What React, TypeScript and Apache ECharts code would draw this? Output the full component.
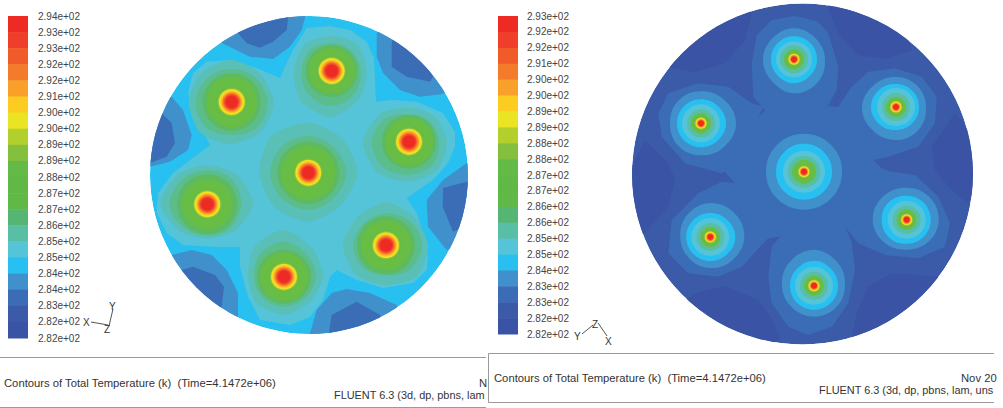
import React, { useEffect, useRef } from "react";
import * as echarts from "echarts";

const leftLabels = ["2.94e+02","2.93e+02","2.93e+02","2.92e+02","2.92e+02","2.91e+02","2.90e+02","2.90e+02","2.89e+02","2.89e+02","2.88e+02","2.87e+02","2.87e+02","2.86e+02","2.85e+02","2.85e+02","2.84e+02","2.84e+02","2.83e+02","2.82e+02","2.82e+02"];
const rightLabels = ["2.93e+02","2.92e+02","2.92e+02","2.91e+02","2.90e+02","2.90e+02","2.89e+02","2.89e+02","2.88e+02","2.88e+02","2.87e+02","2.87e+02","2.86e+02","2.86e+02","2.85e+02","2.85e+02","2.84e+02","2.83e+02","2.83e+02","2.82e+02","2.82e+02"];
const bandColors = ["#ed2a24","#ef3e2a","#f15a29","#f47b2a","#f9a02b","#fdcc20","#e9e524","#b3cf2b","#85bf3e","#63ba46","#60b946","#60b946","#56b572","#58bea4","#55c3d8","#27c0f0","#4090cc","#3a6db5","#3b5aa8","#3a53a4"];
// Shades seen in the disc's green-to-teal rings, outermost first
const ringShades = ["#5abfb6","#5bbc8c","#5eba62","#68bd45"];

type Pt = number[];
// Left disc: isotherm outlines (x, y in picture units)
const leftLight: Pt[] = [[306.7,28],[330,26],[350,30],[366.7,41.7],[374,58],[376,101.7],[393,100],[416.7,101.7],[443,113],[455,131.7],[455,146.7],[448,163],[433,180],[406.7,198],[416.7,213],[423,233],[428,257],[426.7,270],[413,283],[383,288],[356.7,280],[336.7,270],[330,277],[323,300],[310,317],[290,325],[260,320],[248,297],[240,267],[240,247],[216.7,247],[183,245],[166.7,233],[156.7,213],[158,193],[173,173],[210,145],[193,113],[188,93],[193,73],[206.7,61.7],[230,60],[256.7,68],[280,78],[286.7,63],[293,50]];
const leftMidBlobs: Pt[][] = [
  [[221.7,43],[225,20],[305,5],[305.7,15],[301.7,30],[290,46.7],[273,59],[250,56.7]],
  [[376.7,33],[376.7,56.7],[383,73],[400,90],[420,96.7],[443,94],[470,70],[400,20]],
  [[171.7,96.7],[183,110],[191.7,135],[188,150],[170,161.7],[150,166.7],[130,150],[140,100]],
  [[466.7,163],[443,180],[426.7,200],[428,226.7],[446.7,250],[480,240],[490,170]],
  [[171.7,255],[191.7,250],[211.7,255],[226.7,270],[238,293],[238,316.7],[200,330],[150,280]],
  [[310,333],[316.7,310],[331.7,293],[346.7,289],[370,293],[396.7,305],[400,340],[310,345]],
];
const leftDarkBlobs: Pt[][] = [
  [[238,33],[235,15],[288,10],[288,18],[286.7,30],[273,41.7],[260,47.7],[246.7,43.3]],
  [[391.7,43.3],[391.7,66.7],[406.7,76.7],[430,81.7],[433,77],[420,40],[395,30]],
  [[161.7,113],[171.7,123],[175,143],[166.7,156.7],[150,163],[135,140],[145,115]],
  [[466.7,181.7],[443,188],[442.7,206.7],[453,231.7],[480,220],[480,180]],
  [[181.7,270],[193,266.7],[215,275],[224,286.7],[221.7,306.7],[190,320],[160,280]],
  [[329,331.7],[331.7,315],[356.7,301.7],[380,315],[385,340],[330,345]],
];
const leftSpots: Pt[] = [[331.7,71],[231.7,102],[409,141.7],[308.3,172.7],[207.3,204.3],[386,245.3],[284,276.7]];
// Radii of the outer rings in the directions E, SE, S, SW, W, NW, N, NE
const leftOuterRing: number[][] = [[35,39,46,43,38,38,35,37],[42,42,42,44,43,42,42,40],[38,40,40,44,46,40,34,36],[49,46,49,48,49,52,50,48],[46,38,34,38,47,42,39,42],[42,44,40,42,43,40,43,40],[39,36,38,38,36,42,47,40]];
const leftSecondRing: number[][] = [[29,32,35,33,30,30,28,28],[36,36,33,36,36,34,33,34],[30,33,33,36,37,33,27,29],[38,36,37,37,38,37,37,36],[34,33,31,33,38,35,34,35],[36,34,30,32,33,31,32,34],[32,30,30,30,30,33,35,32]];
const leftThirdRing = [26,29,27,31,30,29,27];
const leftGreenRing = [23,25,24,27,25,25,24];
const leftCore: Pt[] = [[9,15.5],[8,14.5],[6,13],[5,11.5],[4,10.2],[3,9],[2,8],[1,7],[0,6]];

// Right disc
const rightOuterBlobs: Pt[][] = [
  [[668,67],[695,72],[725,63],[745,40],[751.7,13],[740,-5],[650,30]],
  [[828,7],[838,33],[858,55],[885,59],[911.7,50],[900,10],[830,-5]],
  [[645,140],[668,163],[675,180],[668,207],[643,235],[620,190]],
  [[955,113],[931.7,146.7],[935,170],[951.7,190],[968,203],[990,160]],
  [[696.7,293],[725,286],[758,300],[773,320],[780,340],[760,350],[670,310]],
  [[856.7,313],[868,286.7],[891.7,273],[938,276.7],[950,300],[870,350],[850,345]],
];
const rightInner: Pt[] = [[751.7,63.3],[756.7,35],[771.7,20],[795,16],[818.3,21.7],[828.3,33.3],[838.3,66.7],[836.7,90],[827.7,106],[838.3,106.7],[851.7,86.7],[868.3,71.7],[895,68.3],[921.7,76.7],[936.7,96.7],[935,123.3],[918.3,146.7],[888.3,156.7],[873.3,160],[881.7,168.3],[891.7,171.7],[915,175],[938.3,196.7],[950,223.3],[945,246.7],[918.3,258.3],[885,255],[858.3,243.3],[845,226.7],[851.7,241.7],[855,270],[848.3,303.3],[831.7,326.7],[808.3,335],[788.3,326.7],[771.7,303.3],[768.3,276.7],[771.7,246.7],[780,236.7],[768.3,238.3],[760,246.7],[741.7,266.7],[718.3,276.7],[688.3,273.3],[668.3,253.3],[671.7,220],[698.3,193.3],[721.7,181.7],[735,183.3],[725,171.7],[721.7,173.3],[685,163.3],[661.7,136.7],[658.3,113.3],[668.3,93.3],[698.3,83.3],[728.3,86.7],[751.7,103.3],[763.3,106.7],[758.3,118.3],[765,110],[753.3,96.7]];
const rightSpots: Pt[] = [[794,59.3],[701,123.3],[896,107],[804,171.7],[710.3,237],[906.7,219.7],[814,285.7]];
const rightMidRing: number[][] = [[31,33,34,31,31,30,31,30],[35,33,32,32,31,32,32,33],[30,32,33,33,34,31,30,30],[38,38,38,38,38,38,38,38],[34,32,31,30,30,32,34,34],[32,31,30,32,34,33,32,32],[31,31,31,31,32,34,36,33]];
const rightCyanRing: number[][] = [[23,23,24,23,23,23,23,23],[25,24,24,24,24,24,24,24],[23,23,23,24,25,24,23,23],[28,28,28,28,28,28,28,28],[25,24,24,24,24,24,24,24],[24,24,24,25,25,25,24,24],[24,24,24,24,24,24,25,24]];
const rightLightRing = [18,19,19,21,19,19,19];
const rightTealRing = [14,14,14,16,14,14,14];
const rightGreenRing = [10,10,10,12,10,10,10];
const rightCore: Pt[] = [[9,7.5],[8,6.5],[6,5.5],[5,4.8],[3,4],[0,3]];

const dirs = [[1,0],[0.7071,0.7071],[0,1],[-0.7071,0.7071],[-1,0],[-0.7071,-0.7071],[0,-1],[0.7071,-0.7071]];
const ring = (c: Pt, radii: number[]): Pt[] => radii.map((r, i) => [c[0] + dirs[i][0] * r, c[1] + dirs[i][1] * r]);

type Shape = { fill: string; pts?: Pt[]; smooth?: number; c?: Pt; r?: number };

function leftShapes(): Shape[] {
  const s: Shape[] = [{ fill: bandColors[15], c: [309, 175], r: 159 }];
  leftMidBlobs.forEach((p) => s.push({ fill: bandColors[16], pts: p }));
  leftDarkBlobs.forEach((p) => s.push({ fill: bandColors[17], pts: p }));
  s.push({ fill: bandColors[14], pts: leftLight });
  leftSpots.forEach((c, i) => {
    s.push({ fill: ringShades[0], pts: ring(c, leftOuterRing[i]), smooth: 0.25 });
    s.push({ fill: ringShades[1], pts: ring(c, leftSecondRing[i]), smooth: 0.35 });
    s.push({ fill: ringShades[2], c, r: leftThirdRing[i] });
    s.push({ fill: ringShades[3], c, r: leftGreenRing[i] });
    leftCore.forEach(([b, r]) => s.push({ fill: bandColors[b], c, r }));
  });
  return s;
}
function rightShapes(): Shape[] {
  const s: Shape[] = [{ fill: bandColors[18], c: [802.5, 174], r: 170.5 }];
  rightOuterBlobs.forEach((p) => s.push({ fill: bandColors[19], pts: p }));
  s.push({ fill: bandColors[17], pts: rightInner });
  rightSpots.forEach((c, i) => {
    s.push({ fill: bandColors[16], pts: ring(c, rightMidRing[i]), smooth: 0.4 });
    s.push({ fill: bandColors[15], pts: ring(c, rightCyanRing[i]), smooth: 0.4 });
    s.push({ fill: bandColors[14], c, r: rightLightRing[i] });
    s.push({ fill: bandColors[13], c, r: rightTealRing[i] });
    s.push({ fill: ringShades[3], c, r: rightGreenRing[i] });
    rightCore.forEach(([b, r]) => s.push({ fill: bandColors[b], c, r }));
  });
  return s;
}

function discSeries(shapes: Shape[], axisIndex: number, disc: Pt, discR: number) {
  return {
    type: "custom",
    coordinateSystem: "cartesian2d",
    xAxisIndex: axisIndex,
    yAxisIndex: axisIndex,
    clip: false,
    silent: true,
    data: shapes.map((_, i) => [disc[0], disc[1], i]),
    renderItem: (params: any, api: any) => {
      const sh = shapes[params.dataIndex];
      const fill = sh.fill;
      const cc = api.coord(disc);
      const cr = api.size([discR, 0])[0];
      const clipPath = { type: "circle", shape: { cx: cc[0], cy: cc[1], r: cr } };
      if (sh.pts) {
        return {
          type: "polygon",
          shape: { points: sh.pts.map((p) => api.coord(p)), smooth: sh.smooth || 0 },
          style: { fill },
          clipPath,
        };
      }
      const p = api.coord(sh.c);
      return {
        type: "circle",
        shape: { cx: p[0], cy: p[1], r: api.size([sh.r, 0])[0] },
        style: { fill },
        clipPath,
      };
    },
  };
}

function barSeries(axisIndex: number) {
  return {
    type: "custom",
    coordinateSystem: "cartesian2d",
    xAxisIndex: axisIndex,
    yAxisIndex: axisIndex,
    silent: true,
    data: bandColors.map((_, i) => [0, i]),
    renderItem: (params: any, api: any) => {
      const i = params.dataIndex;
      const a = api.coord([0, i]);
      const b = api.coord([1, i + 1]);
      return { type: "rect", shape: { x: a[0], y: a[1], width: b[0] - a[0], height: b[1] - a[1] + 0.5 }, style: { fill: bandColors[i] } };
    },
  };
}

const FONT = '"Liberation Sans", Arial, sans-serif';
const LINE = "#9a9a9a";
const RIGHT_EDGE = 994;
const label = (text: string, x: number, y: number, size = 11.25, z = 10) => ({
  type: "text", z, silent: true,
  style: { text, x, y, fill: "#333333", font: `${size}px ${FONT}`, verticalAlign: "middle" },
});
const seg = (x1: number, y1: number, x2: number, y2: number, stroke = LINE, z = 10) => ({
  type: "line", z, silent: true,
  shape: { x1, y1, x2, y2 },
  style: { stroke, lineWidth: 1 },
});

export default function App() {
  const ref = useRef<HTMLDivElement>(null);
  useEffect(() => {
    const chart = echarts.init(ref.current!, undefined, { renderer: "svg" });
    const discAxis = (min: number, max: number, inverse: boolean) => ({ type: "value", min, max, inverse, show: false, scale: true });
    const barY = (labels: string[], margin: number, topPad: number) => ({
      type: "value", min: 0, max: 20, interval: 1, inverse: true,
      axisLine: { show: false }, axisTick: { show: false }, splitLine: { show: false },
      position: "right",
      axisLabel: {
        show: true, margin, color: "#444444", fontSize: 10, fontFamily: FONT,
        padding: [topPad, 0, 0, 0],
        showMinLabel: true, showMaxLabel: true, hideOverlap: false,
        formatter: (v: number) => labels[Math.round(v)],
      },
    });
    chart.setOption({
      animation: false,
      backgroundColor: "#ffffff",
      grid: [
        { left: 150, top: 16, width: 318, height: 318 },
        { left: 632, top: 3.5, width: 341, height: 341 },
        { left: 8, top: 16, width: 20, height: 322 },
        { left: 498, top: 16, width: 20, height: 318 },
      ],
      xAxis: [
        { gridIndex: 0, ...discAxis(150, 468, false) },
        { gridIndex: 1, ...discAxis(632, 973, false) },
        { gridIndex: 2, type: "value", min: 0, max: 1, show: false },
        { gridIndex: 3, type: "value", min: 0, max: 1, show: false },
      ],
      yAxis: [
        { gridIndex: 0, ...discAxis(16, 334, true) },
        { gridIndex: 1, ...discAxis(3.5, 344.5, true) },
        { gridIndex: 2, ...barY(leftLabels, 10, 2) },
        { gridIndex: 3, ...barY(rightLabels, 9, 3) },
      ],
      series: [
        discSeries(leftShapes(), 0, [309, 175], 159),
        discSeries(rightShapes(), 1, [802.5, 174], 170.5),
        barSeries(2),
        barSeries(3),
      ],
      graphic: [
        // Left footer
        seg(0, 357.5, 486, 357.5),
        seg(0, 407.5, 486, 407.5),
        label("Contours of Total Temperature (k)  (Time=4.1472e+06)", 4, 382.5),
        label("N", 479, 382.5),
        label("FLUENT 6.3 (3d, dp, pbns, lam", 334, 395, 10.9),
        // Right footer
        seg(488.5, 353.5, RIGHT_EDGE, 353.5),
        seg(488.5, 402.5, RIGHT_EDGE, 402.5),
        seg(488.5, 353.5, 488.5, 402.5),
        label("Contours of Total Temperature (k)  (Time=4.1472e+06)", 494, 378),
        label("Nov 20", 961, 378),
        label("FLUENT 6.3 (3d, dp, pbns, lam, uns", 819, 390, 10.9),
        // Left axis triad
        seg(113, 309, 109, 326, "#555555"),
        seg(91, 322, 108, 325, "#555555"),
        label("Y", 109, 306, 10),
        label("X", 83, 322, 10),
        label("Z", 104, 329, 10),
        // Right axis triad
        seg(582, 334, 593, 325, "#555555"),
        seg(598, 323, 607, 336, "#555555"),
        label("Y", 574, 336, 10),
        label("Z", 592, 324, 10),
        label("X", 605, 341, 10),
      ],
    });
    return () => chart.dispose();
  }, []);
  return <div ref={ref} style={{ position: "fixed", left: 0, top: 0, width: 1003, height: 408 }} />;
}
